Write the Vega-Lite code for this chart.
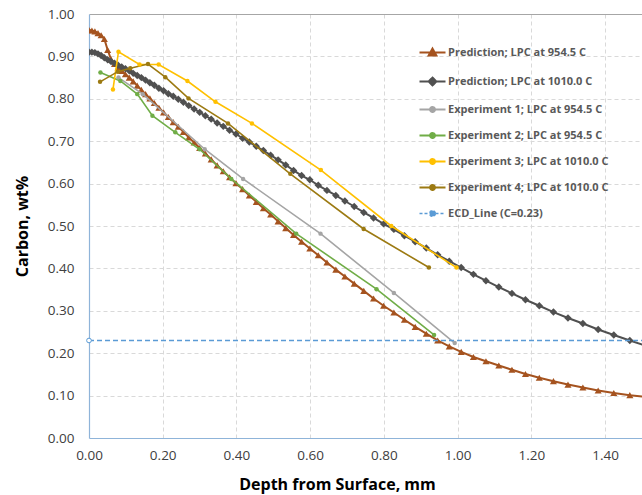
{
  "$schema": "https://vega.github.io/schema/vega-lite/v6.json",
  "width": 553,
  "height": 424,
  "autosize": {"type": "none"},
  "padding": {"left": 89, "top": 14, "right": 0, "bottom": 57},
  "background": "white",
  "config": {"view": {"stroke": null}},
  "data": {"values": [
    {"s":"P1","d":0,"c":0.962},{"s":"P1","d":0.0079,"c":0.961},{"s":"P1","d":0.016,"c":0.959},{"s":"P1","d":0.0244,"c":0.955},{"s":"P1","d":0.0329,"c":0.95},{"s":"P1","d":0.0416,"c":0.941},{"s":"P1","d":0.0506,"c":0.915},{"s":"P1","d":0.0598,"c":0.893},{"s":"P1","d":0.0692,"c":0.882},{"s":"P1","d":0.0788,"c":0.874},{"s":"P1","d":0.0887,"c":0.866},{"s":"P1","d":0.0988,"c":0.858},{"s":"P1","d":0.1092,"c":0.85},{"s":"P1","d":0.1199,"c":0.841},{"s":"P1","d":0.1308,"c":0.831},{"s":"P1","d":0.142,"c":0.821},{"s":"P1","d":0.1535,"c":0.811},{"s":"P1","d":0.1652,"c":0.801},{"s":"P1","d":0.1772,"c":0.79},{"s":"P1","d":0.1896,"c":0.779},{"s":"P1","d":0.2023,"c":0.768},{"s":"P1","d":0.2152,"c":0.757},{"s":"P1","d":0.2285,"c":0.745},{"s":"P1","d":0.2422,"c":0.734},{"s":"P1","d":0.2561,"c":0.722},{"s":"P1","d":0.2704,"c":0.709},{"s":"P1","d":0.2851,"c":0.697},{"s":"P1","d":0.3002,"c":0.684},{"s":"P1","d":0.3156,"c":0.671},{"s":"P1","d":0.3314,"c":0.657},{"s":"P1","d":0.3476,"c":0.643},{"s":"P1","d":0.3642,"c":0.629},{"s":"P1","d":0.3812,"c":0.615},{"s":"P1","d":0.3987,"c":0.601},{"s":"P1","d":0.4166,"c":0.587},{"s":"P1","d":0.4349,"c":0.572},{"s":"P1","d":0.4537,"c":0.557},{"s":"P1","d":0.473,"c":0.542},{"s":"P1","d":0.4927,"c":0.527},{"s":"P1","d":0.5129,"c":0.511},{"s":"P1","d":0.5336,"c":0.495},{"s":"P1","d":0.5549,"c":0.479},{"s":"P1","d":0.5767,"c":0.463},{"s":"P1","d":0.599,"c":0.447},{"s":"P1","d":0.6219,"c":0.431},{"s":"P1","d":0.6454,"c":0.414},{"s":"P1","d":0.6695,"c":0.397},{"s":"P1","d":0.6941,"c":0.381},{"s":"P1","d":0.7194,"c":0.364},{"s":"P1","d":0.7453,"c":0.347},{"s":"P1","d":0.7718,"c":0.329},{"s":"P1","d":0.7991,"c":0.312},{"s":"P1","d":0.827,"c":0.296},{"s":"P1","d":0.8555,"c":0.279},{"s":"P1","d":0.8848,"c":0.262},{"s":"P1","d":0.9149,"c":0.246},{"s":"P1","d":0.9457,"c":0.23},{"s":"P1","d":0.9772,"c":0.216},{"s":"P1","d":1.0096,"c":0.203},{"s":"P1","d":1.0427,"c":0.191},{"s":"P1","d":1.0767,"c":0.181},{"s":"P1","d":1.1116,"c":0.171},{"s":"P1","d":1.1472,"c":0.161},{"s":"P1","d":1.1839,"c":0.151},{"s":"P1","d":1.2214,"c":0.142},{"s":"P1","d":1.2598,"c":0.134},{"s":"P1","d":1.2992,"c":0.126},{"s":"P1","d":1.3396,"c":0.119},{"s":"P1","d":1.3811,"c":0.112},{"s":"P1","d":1.4235,"c":0.106},{"s":"P1","d":1.467,"c":0.101},{"s":"P1","d":1.5116,"c":0.097},
    {"s":"P2","d":0,"c":0.91},{"s":"P2","d":0.0079,"c":0.91},{"s":"P2","d":0.016,"c":0.909},{"s":"P2","d":0.0244,"c":0.906},{"s":"P2","d":0.0329,"c":0.902},{"s":"P2","d":0.0416,"c":0.897},{"s":"P2","d":0.0506,"c":0.892},{"s":"P2","d":0.0598,"c":0.888},{"s":"P2","d":0.0692,"c":0.884},{"s":"P2","d":0.0788,"c":0.879},{"s":"P2","d":0.0887,"c":0.875},{"s":"P2","d":0.0988,"c":0.871},{"s":"P2","d":0.1092,"c":0.866},{"s":"P2","d":0.1199,"c":0.86},{"s":"P2","d":0.1308,"c":0.855},{"s":"P2","d":0.142,"c":0.85},{"s":"P2","d":0.1535,"c":0.844},{"s":"P2","d":0.1652,"c":0.838},{"s":"P2","d":0.1772,"c":0.832},{"s":"P2","d":0.1896,"c":0.825},{"s":"P2","d":0.2023,"c":0.819},{"s":"P2","d":0.2152,"c":0.812},{"s":"P2","d":0.2285,"c":0.806},{"s":"P2","d":0.2422,"c":0.799},{"s":"P2","d":0.2561,"c":0.792},{"s":"P2","d":0.2704,"c":0.784},{"s":"P2","d":0.2851,"c":0.776},{"s":"P2","d":0.3002,"c":0.768},{"s":"P2","d":0.3156,"c":0.76},{"s":"P2","d":0.3314,"c":0.752},{"s":"P2","d":0.3476,"c":0.743},{"s":"P2","d":0.3642,"c":0.735},{"s":"P2","d":0.3812,"c":0.726},{"s":"P2","d":0.3987,"c":0.717},{"s":"P2","d":0.4166,"c":0.707},{"s":"P2","d":0.4349,"c":0.698},{"s":"P2","d":0.4537,"c":0.688},{"s":"P2","d":0.473,"c":0.678},{"s":"P2","d":0.4927,"c":0.667},{"s":"P2","d":0.5129,"c":0.656},{"s":"P2","d":0.5336,"c":0.644},{"s":"P2","d":0.5549,"c":0.631},{"s":"P2","d":0.5767,"c":0.619},{"s":"P2","d":0.599,"c":0.609},{"s":"P2","d":0.6219,"c":0.596},{"s":"P2","d":0.6454,"c":0.584},{"s":"P2","d":0.6695,"c":0.572},{"s":"P2","d":0.6941,"c":0.559},{"s":"P2","d":0.7194,"c":0.546},{"s":"P2","d":0.7453,"c":0.532},{"s":"P2","d":0.7718,"c":0.519},{"s":"P2","d":0.7991,"c":0.505},{"s":"P2","d":0.827,"c":0.492},{"s":"P2","d":0.8555,"c":0.477},{"s":"P2","d":0.8848,"c":0.463},{"s":"P2","d":0.9149,"c":0.448},{"s":"P2","d":0.9457,"c":0.432},{"s":"P2","d":0.9772,"c":0.417},{"s":"P2","d":1.0096,"c":0.402},{"s":"P2","d":1.0427,"c":0.386},{"s":"P2","d":1.0767,"c":0.371},{"s":"P2","d":1.1116,"c":0.356},{"s":"P2","d":1.1472,"c":0.341},{"s":"P2","d":1.1839,"c":0.326},{"s":"P2","d":1.2214,"c":0.312},{"s":"P2","d":1.2598,"c":0.297},{"s":"P2","d":1.2992,"c":0.283},{"s":"P2","d":1.3396,"c":0.27},{"s":"P2","d":1.3811,"c":0.256},{"s":"P2","d":1.4235,"c":0.243},{"s":"P2","d":1.467,"c":0.23},{"s":"P2","d":1.5116,"c":0.217},
    {"s":"E1","d":0.08,"c":0.85},{"s":"E1","d":0.146,"c":0.811},{"s":"E1","d":0.314,"c":0.681},{"s":"E1","d":0.418,"c":0.611},{"s":"E1","d":0.628,"c":0.482},{"s":"E1","d":0.827,"c":0.342},{"s":"E1","d":0.992,"c":0.224},
    {"s":"E2","d":0.031,"c":0.862},{"s":"E2","d":0.085,"c":0.842},{"s":"E2","d":0.131,"c":0.811},{"s":"E2","d":0.172,"c":0.76},{"s":"E2","d":0.234,"c":0.721},{"s":"E2","d":0.3,"c":0.681},{"s":"E2","d":0.386,"c":0.611},{"s":"E2","d":0.562,"c":0.482},{"s":"E2","d":0.78,"c":0.351},{"s":"E2","d":0.936,"c":0.243},
    {"s":"E3","d":0.065,"c":0.822},{"s":"E3","d":0.08,"c":0.911},{"s":"E3","d":0.137,"c":0.881},{"s":"E3","d":0.189,"c":0.881},{"s":"E3","d":0.267,"c":0.842},{"s":"E3","d":0.343,"c":0.793},{"s":"E3","d":0.442,"c":0.742},{"s":"E3","d":0.629,"c":0.632},{"s":"E3","d":0.82,"c":0.5},{"s":"E3","d":0.997,"c":0.402},
    {"s":"E4","d":0.03,"c":0.84},{"s":"E4","d":0.078,"c":0.864},{"s":"E4","d":0.112,"c":0.872},{"s":"E4","d":0.16,"c":0.882},{"s":"E4","d":0.207,"c":0.851},{"s":"E4","d":0.27,"c":0.801},{"s":"E4","d":0.377,"c":0.742},{"s":"E4","d":0.546,"c":0.623},{"s":"E4","d":0.745,"c":0.493},{"s":"E4","d":0.922,"c":0.402},
    {"s":"ECD","d":0,"c":0.23},{"s":"ECD","d":1.6,"c":0.23}
  ]},
  "encoding": {
    "x": {
      "field": "d", "type": "quantitative",
      "scale": {"domain": [0, 1.5], "nice": false, "zero": false},
      "axis": {
        "title": "Depth from Surface, mm",
        "values": [0,0.04,0.08,0.12,0.16,0.2,0.24,0.28,0.32,0.36,0.4,0.44,0.48,0.52,0.56,0.6,0.64,0.68,0.72,0.76,0.8,0.84,0.88,0.92,0.96,1,1.04,1.08,1.12,1.16,1.2,1.24,1.28,1.32,1.36,1.4,1.44,1.48],
        "labelExpr": "abs(datum.value*5-round(datum.value*5))<0.001 ? format(datum.value,'.2f') : ''",
        "labelOverlap": false, "labelFlush": false, "labelBound": false,
        "labelFont": "Open Sans", "labelFontSize": 13.5, "labelColor": "#404040", "labelPadding": 10,
        "domainColor": "#8FB4D9", "domainWidth": 1.2,
        "tickColor": "#8FB4D9", "tickSize": 0, "tickWidth": 1.2,
        "grid": true, "gridColor": "#D9D9D9", "gridDash": [4, 3], "gridWidth": 1,
        "gridOpacity": {"condition": {"test": "abs(datum.value*5-round(datum.value*5))<0.001 && datum.value>0.01", "value": 1}, "value": 0},
        "encode": {"ticks": {"update": {
          "y": {"signal": "abs(datum.value*5-round(datum.value*5))<0.001 ? -5 : -2.5"},
          "y2": {"signal": "abs(datum.value*5-round(datum.value*5))<0.001 ? 5 : 2.5"}
        }}},
        "titleFont": "Open Sans", "titleFontSize": 16, "titleFontWeight": "bold", "titleColor": "#000000",
        "titleX": 248, "titleY": 46, "titleBaseline": "middle"
      }
    },
    "y": {
      "field": "c", "type": "quantitative",
      "scale": {"domain": [0, 1], "nice": false},
      "axis": {
        "title": "Carbon, wt%",
        "values": [0,0.02,0.04,0.06,0.08,0.1,0.12,0.14,0.16,0.18,0.2,0.22,0.24,0.26,0.28,0.3,0.32,0.34,0.36,0.38,0.4,0.42,0.44,0.46,0.48,0.5,0.52,0.54,0.56,0.58,0.6,0.62,0.64,0.66,0.68,0.7,0.72,0.74,0.76,0.78,0.8,0.82,0.84,0.86,0.88,0.9,0.92,0.94,0.96,0.98,1],
        "labelExpr": "abs(datum.value*10-round(datum.value*10))<0.001 ? format(datum.value,'.2f') : ''",
        "labelOverlap": false, "labelBound": false, "labelFlush": false,
        "labelFont": "Open Sans", "labelFontSize": 13.5, "labelColor": "#404040", "labelPadding": 15,
        "domainColor": "#8FB4D9", "domainWidth": 1.2,
        "tickColor": "#8FB4D9", "tickSize": 0, "tickWidth": 1.2,
        "grid": true, "gridWidth": 1,
        "gridColor": {"condition": {"test": "datum.value>0.999", "value": "#A6A6A6"}, "value": "#D9D9D9"},
        "gridDash": {"condition": {"test": "datum.value>0.999", "value": []}, "value": [4, 3]},
        "gridOpacity": {"condition": {"test": "abs(datum.value*10-round(datum.value*10))<0.001 && datum.value>0.01", "value": 1}, "value": 0},
        "encode": {"ticks": {"update": {
          "x": {"signal": "abs(datum.value*10-round(datum.value*10))<0.001 ? 5 : 2.5"},
          "x2": {"signal": "abs(datum.value*10-round(datum.value*10))<0.001 ? -5 : -2.5"}
        }}},
        "titleFont": "Open Sans", "titleFontSize": 16, "titleFontWeight": "bold", "titleColor": "#000000",
        "titleX": -67, "titleY": 212, "titleBaseline": "middle", "titleAlign": "center", "titleAngle": -90
      }
    },
    "color": {
      "field": "s", "type": "nominal",
      "scale": {"domain": ["P1","P2","E1","E2","E3","E4","ECD"], "range": ["#A5531F","#505050","#A5A5A5","#70AD47","#FFC000","#9C7A12","#5B9BD5"]},
      "legend": {
        "title": null, "orient": "none", "legendX": 338, "legendY": 33, "padding": 0,
        "symbolType": "M-1,0H1", "symbolSize": 676, "symbolStrokeWidth": 2,
        "labelFont": "Open Sans", "labelFontSize": 11, "labelFontWeight": "bold", "labelColor": "#595959",
        "labelOffset": 10, "rowPadding": 13, "labelLimit": 300,
        "labelExpr": "datum.value=='P1' ? 'Prediction; LPC at 954.5 C' : datum.value=='P2' ? 'Prediction; LPC at 1010.0 C' : datum.value=='E1' ? 'Experiment 1; LPC at 954.5 C' : datum.value=='E2' ? 'Experiment 2; LPC at 954.5 C' : datum.value=='E3' ? 'Experiment 3; LPC at 1010.0 C' : datum.value=='E4' ? 'Experiment 4; LPC at 1010.0 C' : 'ECD_Line (C=0.23)'",
        "encode": {"symbols": {"update": {
          "shape": {"signal": "datum.value=='P1' ? 'M-1,0H1M0,-0.3L0.3,0.24L-0.3,0.24Z' : datum.value=='P2' ? 'M-1,0H1M0,-0.3L0.3,0L0,0.3L-0.3,0Z' : datum.value=='ECD' ? 'M-1,0H-0.23M0.23,0H1M0.23,0A0.23,0.23 0 1 1 -0.23,0A0.23,0.23 0 1 1 0.23,0Z' : 'M-1,0H1M0.19,0A0.19,0.19 0 1 1 -0.19,0A0.19,0.19 0 1 1 0.19,0Z'"},
          "fill": {"signal": "datum.value=='ECD' ? 'white' : scale('color', datum.value)"},
          "stroke": {"signal": "scale('color', datum.value)"},
          "strokeDash": {"signal": "datum.value=='ECD' ? [3,2] : [1,0]"},
          "strokeWidth": {"signal": "datum.value=='ECD' ? 1.3 : 2"},
          "opacity": {"value": 1}
        }}}
      }
    }
  },
  "layer": [
    {"transform": [{"filter": "datum.s=='P1'"}], "mark": {"type": "line", "strokeWidth": 2, "clip": true}},
    {"transform": [{"filter": "datum.s=='P1'"}], "mark": {"type": "point", "shape": "triangle-up", "filled": true, "size": 50, "opacity": 1, "clip": true}},
    {"transform": [{"filter": "datum.s=='P2'"}], "mark": {"type": "line", "strokeWidth": 2, "clip": true}},
    {"transform": [{"filter": "datum.s=='P2'"}], "mark": {"type": "point", "shape": "diamond", "filled": true, "size": 55, "opacity": 1, "clip": true}},
    {"transform": [{"filter": "datum.s=='E1' || datum.s=='E2' || datum.s=='E3' || datum.s=='E4'"}], "mark": {"type": "line", "strokeWidth": 1.6, "clip": true}},
    {"transform": [{"filter": "datum.s=='E1' || datum.s=='E2' || datum.s=='E3' || datum.s=='E4'"}], "mark": {"type": "point", "shape": "circle", "filled": true, "size": 20, "opacity": 1, "clip": true}},
    {"transform": [{"filter": "datum.s=='ECD'"}], "mark": {"type": "line", "strokeWidth": 1.3, "clip": true}, "encoding": {"strokeDash": {"value": [5, 3]}}},
    {"transform": [{"filter": "datum.s=='ECD' && datum.d==0"}], "mark": {"type": "point", "shape": "circle", "filled": true, "fill": "white", "strokeWidth": 1, "size": 22, "opacity": 1, "clip": false}, "encoding": {"stroke": {"value": "#5B9BD5"}}}
  ]
}
